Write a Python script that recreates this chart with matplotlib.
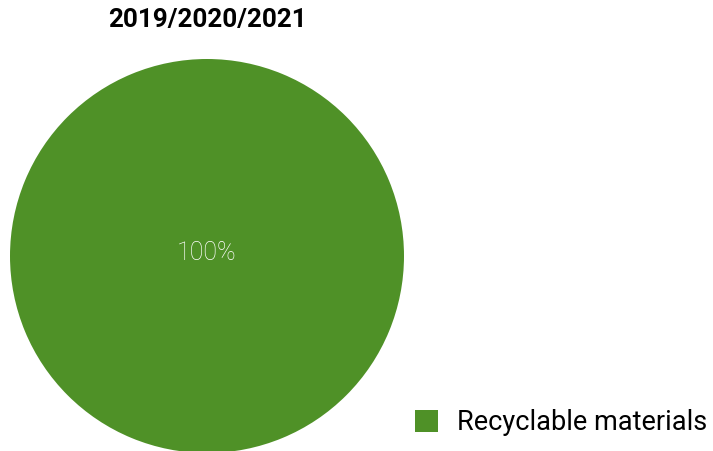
import matplotlib
matplotlib.use("Agg")
import matplotlib.pyplot as plt

# dados do gráfico
categorias = ["Recyclable materials"]
valores = [100]
cores = ["#4f9127"]
titulo = "2019/2020/2021"

fig = plt.figure(figsize=(7.13, 4.51), dpi=100)
ax = fig.add_axes([10 / 713, -2 / 451, 394 / 713, 394 / 451])

fatias, textos, pct = ax.pie(valores, colors=cores, radius=1, startangle=90,
                             autopct="%d%%", pctdistance=0.0,
                             textprops=dict(family="Roboto", color="white",
                                            fontsize=18, fontweight="light"))
for t in textos:
    t.set_text("")
for p in pct:
    p.set_position((0, 0.015))
ax.set_xlim(-1, 1)
ax.set_ylim(-1, 1)
ax.set_aspect("equal")
ax.axis("off")

fig.text(207 / 713, 1 - 20 / 451, titulo, ha="center", va="center",
         family="Roboto", fontweight="bold", fontsize=18.7)

fig.legend(fatias, categorias, loc="center left",
           bbox_to_anchor=(391 / 713, 1 - 423 / 451), frameon=False,
           prop=dict(family="Roboto", size=19.5), handlelength=0.85,
           handleheight=0.85, handletextpad=0.7)

fig.savefig("out.png", dpi=100)
